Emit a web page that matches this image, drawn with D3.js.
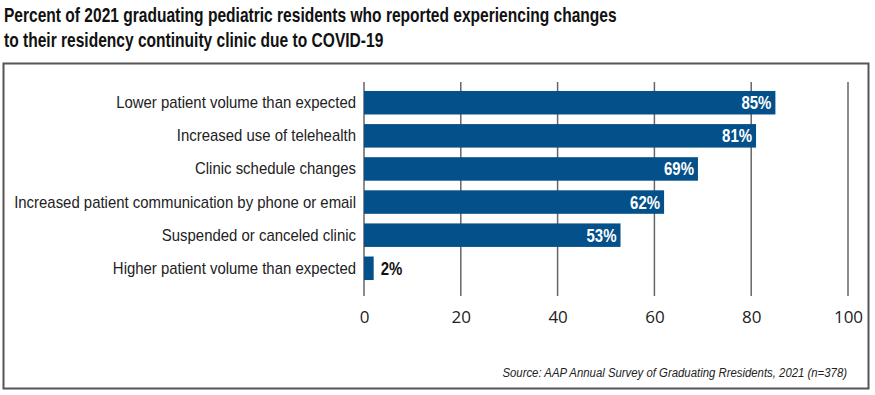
<!DOCTYPE html>
<html>
<head>
<meta charset="utf-8">
<script src="https://cdn.jsdelivr.net/npm/d3@7"></script>
<style>
  body { margin: 0; background: #fff; }
  svg { display: block; }
</style>
</head>
<body>
<div class="container"></div>
<script>
const WIDTH = 875;
const HEIGHT = 395;

var categories = [
  'Lower patient volume than expected',
  'Increased use of telehealth',
  'Clinic schedule changes',
  'Increased patient communication by phone or email',
  'Suspended or canceled clinic',
  'Higher patient volume than expected'
];
var values = [85, 81, 69, 62, 53, 2];
var ticks = [0, 20, 40, 60, 80, 100];
var titleLines = [
  'Percent of 2021 graduating pediatric residents who reported experiencing changes',
  'to their residency continuity clinic due to COVID-19'
];
var source = 'Source: AAP Annual Survey of Graduating Rresidents, 2021 (n=378)';

var font = '"Liberation Sans", Arial, sans-serif';
var barColor = '#03508a';

var svg = d3.select('.container').append('svg')
  .attr('width', WIDTH)
  .attr('height', HEIGHT);

// squeeze a selection of texts horizontally so the widest one fits `width`
function condense(sel, width) {
  var widest = 0;
  sel.each(function () { widest = Math.max(widest, this.getComputedTextLength()); });
  var sx = Math.min(1, width / widest);
  sel.each(function () {
    var t = d3.select(this);
    var x0 = +t.attr('x'), y0 = +t.attr('y');
    t.attr('x', 0).attr('y', 0)
      .attr('transform', 'translate(' + x0 + ',' + y0 + ') scale(' + sx + ',1)');
  });
  return sx;
}

// title
var title = svg.selectAll('.title')
  .data(titleLines)
  .enter().append('text')
  .attr('class', 'title')
  .attr('x', 4)
  .attr('y', function (d, i) { return 22 + i * 25; })
  .style('font-family', font)
  .style('font-weight', 'bold')
  .style('font-size', '20px')
  .style('fill', '#111')
  .text(function (d) { return d; });
condense(title, 613);

// frame
svg.append('rect')
  .attr('x', 3.5)
  .attr('y', 63.5)
  .attr('width', 865)
  .attr('height', 325)
  .style('fill', 'none')
  .style('stroke', '#555')
  .style('stroke-width', 2);

var x = d3.scaleLinear().domain([0, 100]).range([364, 848]);
var y = d3.scaleBand().domain(categories).range([86, 285]).paddingInner(0.29).paddingOuter(0.15);

// grid
svg.selectAll('.grid')
  .data(ticks)
  .enter().append('line')
  .attr('class', 'grid')
  .attr('x1', function (d) { return x(d); })
  .attr('x2', function (d) { return x(d); })
  .attr('y1', 82)
  .attr('y2', 296)
  .style('stroke', '#666')
  .style('stroke-width', 1.5);

// tick labels
var axis = d3.axisBottom(x).tickValues(ticks).tickSize(0).tickPadding(0);
var ax = svg.append('g')
  .attr('transform', 'translate(0,308)')
  .call(axis);
ax.select('.domain').remove();
ax.selectAll('text')
  .attr('dy', '0.9em')
  .style('font-family', '"Open Sans", sans-serif')
  .style('font-size', '17px')
  .style('fill', '#222');

// bars
svg.selectAll('.bar')
  .data(values)
  .enter().append('rect')
  .attr('class', 'bar')
  .attr('x', x(0))
  .attr('y', function (d, i) { return y(categories[i]); })
  .attr('width', function (d) { return x(d) - x(0); })
  .attr('height', y.bandwidth())
  .style('fill', barColor);

// category labels
var cats = svg.selectAll('.cat')
  .data(categories)
  .enter().append('text')
  .attr('class', 'cat')
  .attr('x', 356)
  .attr('y', function (d) { return y(d) + y.bandwidth() / 2 + 5.5; })
  .attr('text-anchor', 'end')
  .style('font-family', font)
  .style('font-size', '16px')
  .style('fill', '#222')
  .text(function (d) { return d; });
condense(cats, 342);

// value labels
var vals = svg.selectAll('.val')
  .data(values)
  .enter().append('text')
  .attr('class', 'val')
  .attr('x', function (d) { return d > 10 ? x(d) - 4 : x(d) + 7; })
  .attr('y', function (d, i) { return y(categories[i]) + y.bandwidth() / 2 + 6.5; })
  .attr('text-anchor', function (d) { return d > 10 ? 'end' : 'start'; })
  .style('font-family', font)
  .style('font-weight', 'bold')
  .style('font-size', '18px')
  .style('fill', function (d) { return d > 10 ? '#fff' : '#111'; })
  .text(function (d) { return d + '%'; });
condense(vals, 30);

// source
var src = svg.append('text')
  .attr('x', 847)
  .attr('y', 377)
  .attr('text-anchor', 'end')
  .style('font-family', font)
  .style('font-style', 'italic')
  .style('font-size', '13.5px')
  .style('fill', '#222')
  .text(source);
condense(src, 345);
</script>
</body>
</html>
